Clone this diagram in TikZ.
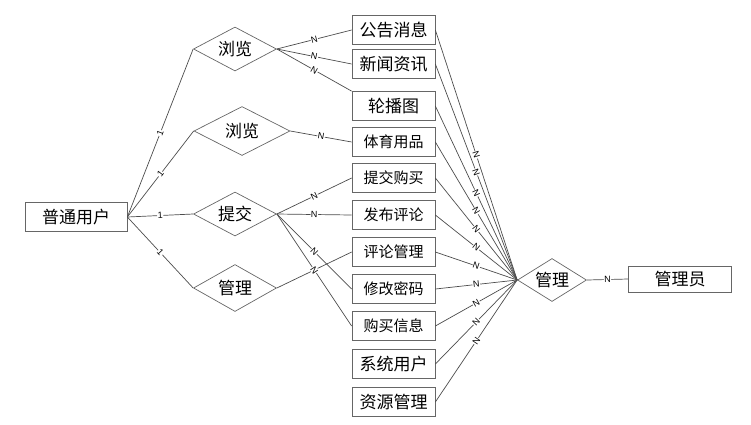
\documentclass[tikz,border=0pt]{standalone}
\usepackage{fontspec}
\setmainfont{Noto Sans CJK SC}
\newfontfamily\latn{Liberation Sans}
\usetikzlibrary{shapes.geometric}

\begin{document}
\begin{tikzpicture}[x=1pt, y=-1pt, line width=0.7pt,
    ent/.style={draw=black!60, minimum width=83pt, minimum height=29pt, inner sep=1pt, font=\fontsize{17}{17}\selectfont},
    sm/.style={font=\fontsize{15}{15}\selectfont},
    rel/.style={draw=black!60, diamond, aspect=2, inner sep=0.5pt, minimum width=83pt, minimum height=44pt, font=\fontsize{17}{17}\selectfont},
    lk/.style={draw=black!70},
    lb/.style={fill=white, inner sep=0.5pt, sloped, font=\latn\fontsize{9}{9}\selectfont}]
  \useasboundingbox (0,0) rectangle (751,424);
  \node[ent, minimum width=102pt] (user) at (76,217) {普通用户};
  \node[rel] (ll1) at (235,49) {浏览};
  \node[rel, minimum width=96pt, minimum height=49pt] (ll2) at (242,131) {浏览};
  \node[rel] (tjr) at (235,214) {提交};
  \node[rel, minimum height=47pt] (gl1) at (235,288) {管理};
  \node[ent] (gg) at (393.5,30) {公告消息};
  \node[ent] (xw) at (393.5,64) {新闻资讯};
  \node[ent] (lbt) at (393.5,106) {轮播图};
  \node[ent, sm] (ty) at (393.5,142) {体育用品};
  \node[ent, sm] (tj) at (393.5,178) {提交购买};
  \node[ent, sm] (fb) at (393.5,215) {发布评论};
  \node[ent, sm] (pl) at (393.5,252) {评论管理};
  \node[ent, sm] (xg) at (393.5,289) {修改密码};
  \node[ent, sm] (gm) at (393.5,326) {购买信息};
  \node[ent] (xt) at (393.5,364) {系统用户};
  \node[ent] (zy) at (393.5,402) {资源管理};
  \node[rel, minimum width=69pt, minimum height=43pt] (gl2) at (552,280) {管理};
  \node[ent, minimum width=103pt, minimum height=26pt] (gly) at (680,279) {管理员};
  \draw[lk] (user.east) -- node[lb]{1} (ll1.west);
  \draw[lk] (user.east) -- node[lb]{1} (ll2.west);
  \draw[lk] (user.east) -- node[lb]{1} (tjr.west);
  \draw[lk] (user.east) -- node[lb]{1} (gl1.west);
  \draw[lk] (ll1.east) -- node[lb]{N} (gg.west);
  \draw[lk] (ll1.east) -- node[lb]{N} (xw.west);
  \draw[lk] (ll1.east) -- node[lb]{N} (lbt.north west);
  \draw[lk] (ll2.east) -- node[lb]{N} (ty.west);
  \draw[lk] (tjr.east) -- node[lb]{N} (tj.west);
  \draw[lk] (tjr.east) -- node[lb]{N} (fb.west);
  \draw[lk] (tjr.east) -- node[lb]{N} (xg.west);
  \draw[lk] (gl1.east) -- (pl.west);
  \draw[lk] (tjr.east) -- node[lb]{N} (gm.west);
  \foreach \e in {gg,xw,lbt,ty,tj,fb,pl,xg,gm,xt,zy}
    \draw[lk] (\e.east) -- node[lb]{N} (gl2.west);
  \draw[lk] (gl2.east) -- node[lb]{N} (gly.west);
\end{tikzpicture}
\end{document}
